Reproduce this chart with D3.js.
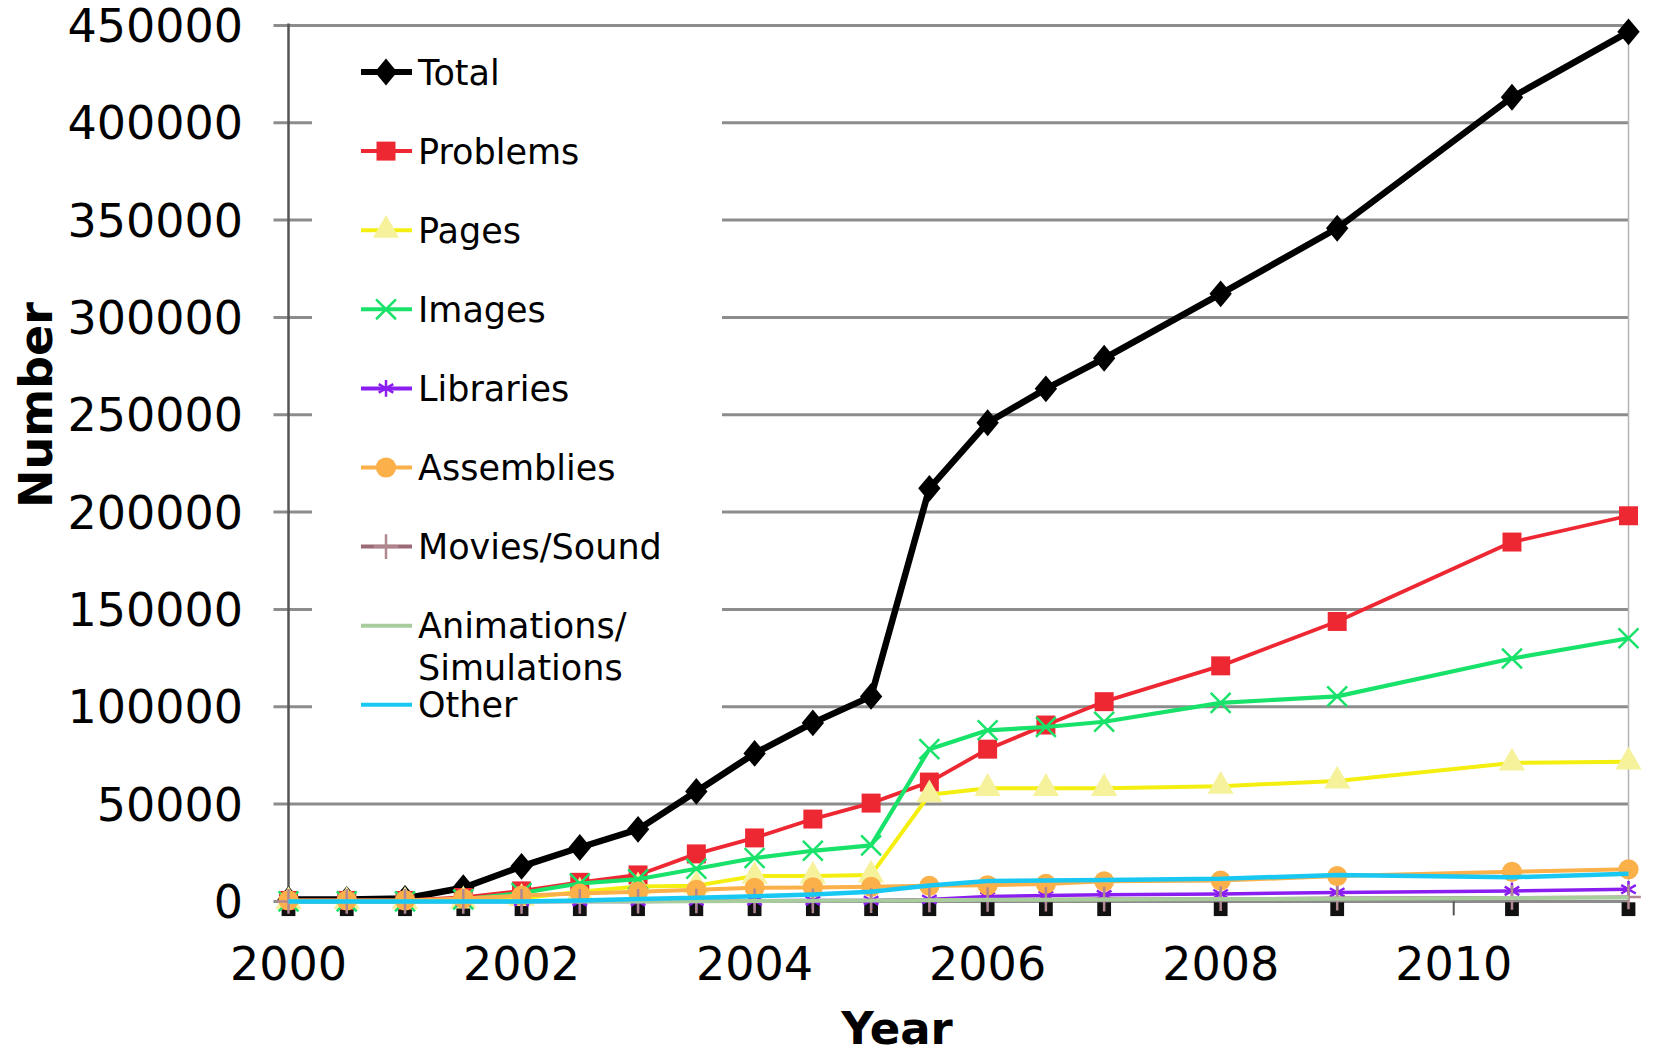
<!DOCTYPE html>
<html>
<head>
<meta charset="utf-8">
<script src="https://cdn.jsdelivr.net/npm/d3@7"></script>
<style>
  body { margin: 0; background: #fff; }
  text { font-family: "DejaVu Sans", Verdana, sans-serif; fill: #000; }
</style>
</head>
<body>
<svg id="chart"></svg>
<script>
// sample dates (decimal years)
const years = [2000, 2000.5, 2001, 2001.5, 2002, 2002.5, 2003, 2003.5, 2004, 2004.5, 2005, 2005.5, 2006, 2006.5, 2007, 2008, 2009, 2010.5, 2011.5]

const total      = [1000, 1000, 1500, 7000, 18000, 27700, 37000, 56500, 76000, 91700, 105300, 212200, 245900, 263300, 279000, 312100, 345800, 413100, 446700]
const problems   = [500, 500, 500, 2000, 5400, 9800, 13600, 24400, 32600, 42300, 50500, 61300, 78200, 90600, 102600, 121000, 143800, 184600, 198100]
const pages      = [0, 0, 0, 300, 1600, 4900, 7600, 8100, 13000, 13000, 13600, 54800, 58100, 58100, 58100, 59200, 61900, 71100, 71700]
const images     = [0, 0, 0, 1000, 4300, 9200, 11400, 16800, 22300, 26000, 28800, 78200, 87900, 89600, 92300, 102000, 105300, 124800, 135200]
const libraries  = [0, 0, 0, 0, 0, 0, 0, 200, 300, 400, 500, 1000, 2500, 3000, 3400, 3800, 4600, 5400, 6200]
const assemblies = [500, 500, 500, 1500, 3000, 4000, 5000, 6000, 7000, 7200, 7500, 8000, 8300, 9000, 10300, 10700, 13000, 15200, 16500]
const movies     = [0, 0, 0, 0, 0, 0, 100, 200, 300, 300, 400, 800, 1000, 1100, 1200, 1400, 1700, 2000, 2300]
const animations = [0, 0, 0, 0, 0, 0, 0, 100, 200, 300, 400, 600, 800, 900, 1000, 1200, 1400, 1700, 2000]
const other      = [0, 0, 0, 0, 0, 500, 1200, 1900, 2600, 3500, 5000, 8200, 10500, 10800, 11000, 11600, 13600, 12400, 14200]
// dark marker row sitting just under the x axis
const baseRow    = years.map(() => -4000)

const yTicks = [0, 50000, 100000, 150000, 200000, 250000, 300000, 350000, 400000, 450000]
const xTicks = [2000, 2002, 2004, 2006, 2008, 2010]

const W = 1657, H = 1058
const plotLeft = 288.5, plotRight = 1628.5, plotTop = 25.4, plotBottom = 901.4

const svg = d3.select('#chart').attr('width', W).attr('height', H)

const x = d3.scaleLinear().domain([2000, 2011.5]).range([plotLeft, plotRight])
const y = d3.scaleLinear().domain([0, 450000]).range([plotBottom, plotTop])

// custom excel-ish diamond
const diamond = {
  draw(ctx, size) {
    const w = Math.sqrt(size) / 2, h = w * 1.2
    ctx.moveTo(0, -h); ctx.lineTo(w, 0); ctx.lineTo(0, h); ctx.lineTo(-w, 0); ctx.closePath()
  }
}

const series = [
  {name: 'Total', values: total, color: '#000', width: 6.5, marker: diamond, msize: 500, fill: '#000'},
  {name: 'Problems', values: problems, color: '#ee2833', width: 3.8, marker: d3.symbolSquare, msize: 360, fill: '#ee2833'},
  {name: 'Pages', values: pages, color: '#f4ef10', width: 4, marker: d3.symbolTriangle, msize: 300, fill: '#f6f29c'},
  {name: 'Images', values: images, color: '#18e26a', width: 4.2, marker: d3.symbolTimes, msize: 260, stroke: '#18e26a'},
  {name: 'Libraries', values: libraries, color: '#8a1df0', width: 3.5, marker: d3.symbolAsterisk, msize: 200, stroke: '#8a1df0'},
  {name: 'Assemblies', values: assemblies, color: '#fbb04a', width: 4, marker: d3.symbolCircle, msize: 320, fill: '#fbb04a'},
  {name: 'Movies/Sound', values: movies, color: '#9c6a76', width: 3, marker: d3.symbolPlus, msize: 200, stroke: '#b08890'},
  {name: ['Animations/', 'Simulations'], values: animations, color: '#a8cc9c', width: 4, marker: null},
  {name: 'Other', values: other, color: '#18c8f2', width: 4.5, marker: null}
]

// gridlines (with the little outside tick)
svg.append('g')
  .selectAll('line')
  .data(yTicks)
  .join('line')
  .attr('x1', plotLeft - 15)
  .attr('x2', plotRight)
  .attr('y1', d => y(d))
  .attr('y2', d => y(d))
  .attr('stroke', '#8c8c8c')
  .attr('stroke-width', 3)

// right border
svg.append('line')
  .attr('x1', plotRight).attr('x2', plotRight)
  .attr('y1', plotTop).attr('y2', plotBottom)
  .attr('stroke', '#b4b4b4').attr('stroke-width', 1.5)

// legend background hides the gridlines behind it
const legendX = 312, legendY = 45
svg.append('rect')
  .attr('x', legendX).attr('y', legendY)
  .attr('width', 410).attr('height', 700)
  .attr('fill', '#fff')

// y axis line
svg.append('line')
  .attr('x1', plotLeft).attr('x2', plotLeft)
  .attr('y1', plotTop - 2).attr('y2', plotBottom)
  .attr('stroke', '#555').attr('stroke-width', 2.5)

// x axis ticks
svg.append('g')
  .selectAll('line')
  .data(xTicks)
  .join('line')
  .attr('x1', d => x(d)).attr('x2', d => x(d))
  .attr('y1', plotBottom).attr('y2', plotBottom + 14)
  .attr('stroke', '#555').attr('stroke-width', 2)

// tick labels
svg.append('g')
  .selectAll('text')
  .data(yTicks)
  .join('text')
  .attr('x', 243)
  .attr('y', d => y(d))
  .attr('dy', '0.36em')
  .attr('text-anchor', 'end')
  .style('font-size', '46px')
  .text(d => d)

svg.append('g')
  .selectAll('text')
  .data(xTicks)
  .join('text')
  .attr('x', d => x(d))
  .attr('y', 980)
  .attr('text-anchor', 'middle')
  .style('font-size', '46px')
  .text(d => d)

// axis titles
svg.append('text')
  .attr('transform', 'translate(52,405) rotate(-90)')
  .attr('text-anchor', 'middle')
  .style('font-size', '46px').style('font-weight', 'bold')
  .text('Number')

svg.append('text')
  .attr('x', 897).attr('y', 1044)
  .attr('text-anchor', 'middle')
  .style('font-size', '45px').style('font-weight', 'bold')
  .text('Year')

function drawMarker(sel, s) {
  const sym = d3.symbol().type(s.marker).size(s.msize)
  sel.attr('d', sym)
    .attr('fill', s.fill || 'none')
    .attr('stroke', s.stroke || 'none')
    .attr('stroke-width', s.stroke ? 2.5 : 0)
}

const plot = svg.append('g')

// bottom row of dark squares
plot.append('g')
  .selectAll('path')
  .data(baseRow)
  .join('path')
  .attr('transform', (d, i) => `translate(${x(years[i])},${y(d)})`)
  .attr('d', d3.symbol().type(d3.symbolSquare).size(190))
  .attr('fill', '#111')

const line = d3.line().x((d, i) => x(years[i])).y(d => y(d))

series.forEach(s => {
  const g = plot.append('g')
  g.append('path')
    .datum(s.values)
    .attr('d', line)
    .attr('fill', 'none')
    .attr('stroke', s.color)
    .attr('stroke-width', s.width)
    .attr('stroke-linejoin', 'round')
  if (s.marker) {
    g.selectAll('path.m')
      .data(s.values)
      .join('path')
      .attr('class', 'm')
      .attr('transform', (d, i) => `translate(${x(years[i])},${y(d)})`)
      .call(drawMarker, s)
  }
})

// legend
const rowH = 79.1
const legend = svg.append('g')
series.forEach((s, i) => {
  const cy = 72 + i * rowH
  const g = legend.append('g').attr('transform', `translate(0,${cy})`)
  g.append('line')
    .attr('x1', 361).attr('x2', 412)
    .attr('stroke', s.color).attr('stroke-width', s.width > 5 ? 6 : 4)
  if (s.marker) {
    g.append('path')
      .attr('transform', 'translate(386,0)')
      .call(drawMarker, s)
  }
  const names = Array.isArray(s.name) ? s.name : [s.name]
  const t = g.append('text')
    .attr('x', 418)
    .style('font-size', '35px')
  names.forEach((n, k) => {
    t.append('tspan').attr('x', 418).attr('dy', k === 0 ? '0.36em' : '1.18em').text(n)
  })
})
</script>
</body>
</html>
